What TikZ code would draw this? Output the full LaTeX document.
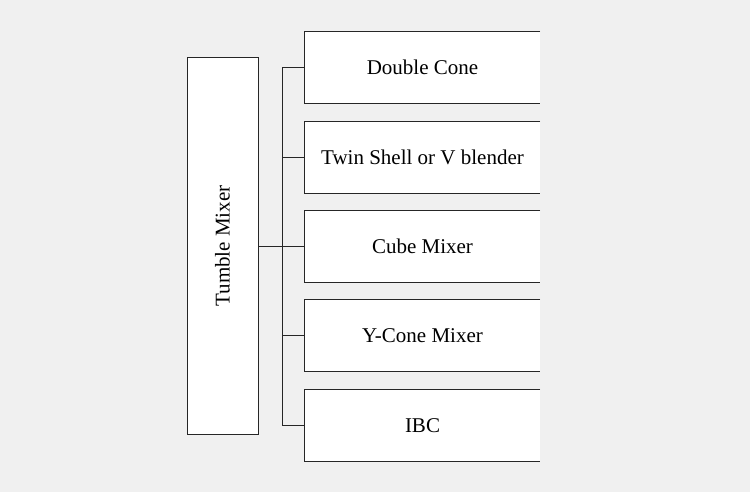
\documentclass[tikz,border=0pt]{standalone}
\usepackage{fontspec}
\setmainfont{Liberation Serif}

\tikzset{
  box/.style={fill=white, inner sep=0pt, font=\fontsize{21}{25}\selectfont},
  line/.style={draw=black!85, line width=1pt},
}

\begin{document}
\begin{tikzpicture}[x=1pt,y=-1pt]

% Background
\fill[black!6] (0,0) rectangle (750,492);

% Main box
\node[box, line, rotate=90, minimum width=376pt, minimum height=71pt] (tumble) at (222.5,246) {Tumble Mixer};

% Spine of the tree
\coordinate (spine) at (282,246);

% Branch boxes (open on the right side)
\foreach \name/\txt/\y in {cone/Double Cone/67.5, twin/Twin Shell or V blender/157.5,
    cube/Cube Mixer/246.5, ycone/Y-Cone Mixer/335.5, ibc/IBC/425.5}{
  \node[box, minimum width=235pt, minimum height=71pt] (\name) at (422.5,\y) {\txt};
  \draw[line] (\name.north east) -- (\name.north west) -- (\name.south west) -- (\name.south east);
  \draw[line] (\name.west) -- (\name.west -| spine);
}

% Connectors
\draw[line] (cone.west -| spine) -- (ibc.west -| spine);
\draw[line] (tumble.south) -- (tumble.south -| spine);

\end{tikzpicture}
\end{document}
